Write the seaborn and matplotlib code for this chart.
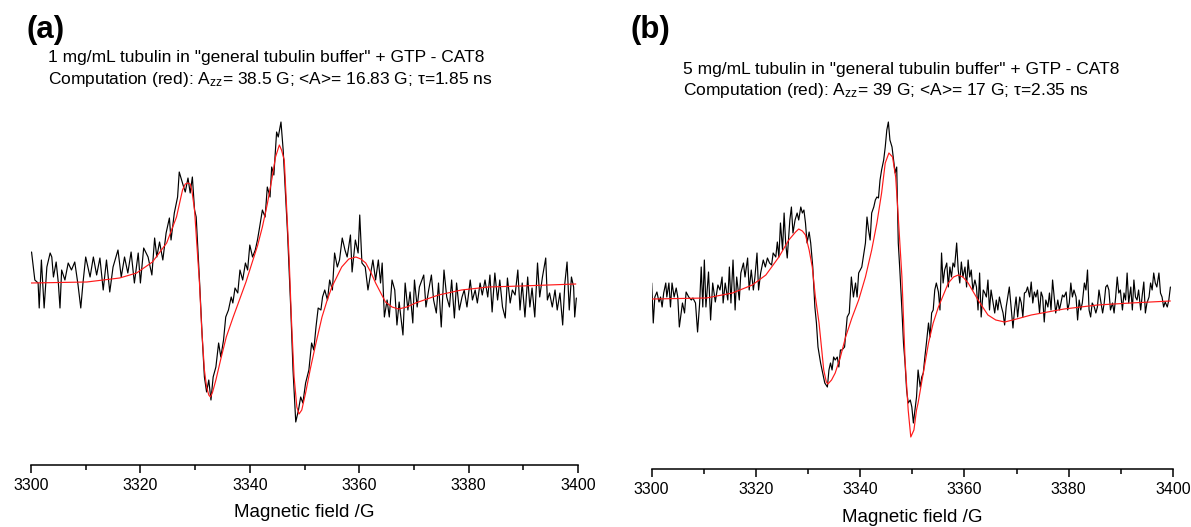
import numpy as np
import pandas as pd
import matplotlib.pyplot as plt
import seaborn as sns
from matplotlib.ticker import MultipleLocator

# EPR spectra of CAT8 in tubulin buffer, experiment (black) vs computation (red)
# signal in arbitrary units, field in Gauss

# ---- panel (a): 1 mg/mL ----
exp_a_field = [
    3300.1, 3300.7, 3301.3, 3301.5, 3301.9, 3302.4, 3302.9, 3303.5, 3303.8, 3304.1,
    3304.6, 3305.0, 3305.3, 3305.6, 3306.2, 3306.8, 3307.4, 3308.0, 3308.6, 3309.1,
    3309.5, 3310.0, 3310.8, 3311.4, 3312.0, 3312.6, 3313.2, 3313.8, 3314.4, 3315.0,
    3315.9, 3316.5, 3317.1, 3317.7, 3318.3, 3318.9, 3319.6, 3320.0, 3320.6, 3321.4,
    3322.1, 3322.6, 3323.0, 3323.5, 3324.1, 3324.7, 3325.3, 3325.6, 3326.2, 3326.8,
    3327.1, 3327.8, 3328.2, 3328.7, 3329.1, 3329.5, 3329.9, 3330.2, 3330.8, 3331.3,
    3331.7, 3332.1, 3332.5, 3332.9, 3333.3, 3333.8, 3334.3, 3334.7, 3335.2, 3335.6,
    3336.1, 3336.6, 3336.9, 3337.3, 3337.8, 3338.2, 3338.7, 3339.2, 3339.6, 3340.0,
    3340.5, 3341.0, 3341.4, 3341.8, 3342.3, 3342.8, 3343.2, 3343.7, 3344.0, 3344.4,
    3344.9, 3345.2, 3345.7, 3346.1, 3346.5, 3346.9, 3347.5, 3347.9, 3348.4, 3348.9,
    3349.3, 3349.7, 3350.2, 3350.8, 3351.3, 3351.7, 3352.1, 3352.5,
    3353.0, 3353.3, 3353.7, 3354.2, 3354.6, 3355.1, 3355.5, 3356.0, 3356.4, 3356.9,
    3357.4, 3357.8, 3358.4, 3358.7, 3359.3, 3359.8, 3360.1, 3360.5, 3361.1, 3361.6,
    3362.1, 3362.5, 3363.0, 3363.5, 3363.9, 3364.2, 3364.6, 3365.1, 3365.5, 3366.0,
    3366.5, 3366.9, 3367.3, 3368.0, 3368.4, 3368.9, 3369.3, 3369.8, 3370.1, 3370.6,
    3371.0, 3371.8, 3372.2, 3372.7, 3373.2, 3373.6, 3374.1, 3374.5, 3375.0, 3375.5,
    3376.0, 3376.5, 3376.9, 3377.4, 3377.8, 3378.3, 3378.8, 3379.2, 3379.7, 3380.3,
    3380.7, 3381.2, 3381.6, 3382.1, 3382.5, 3383.0, 3383.5, 3383.9, 3384.3, 3384.8,
    3385.3, 3385.7, 3386.2, 3386.7, 3387.1, 3387.6, 3388.0, 3388.5, 3389.0, 3389.4,
    3389.8, 3390.3, 3390.8, 3391.2, 3391.6, 3392.1, 3392.6, 3393.0, 3393.5, 3394.1,
    3394.4, 3394.8, 3395.3, 3395.8, 3396.2, 3396.7, 3397.2, 3397.6, 3398.0, 3398.4,
    3398.8, 3399.2, 3399.4, 3399.7,
]
exp_a = [
    31, 3, 0, -25, 23, -25, 16, 30, 26, 6,
    21, 0, -25, 13, 3, 20, 13, 21, -2, -25,
    0, 26, 6, 26, 8, 25, -7, 23, -9, 16,
    33, 6, 26, 10, 31, 0, 30, 0, 35, 26,
    8, 45, 26, 41, 23, 50, 65, 43, 70, 86,
    111, 98, 91, 105, 90, 106, 73, 66, 3, -54,
    -94, -109, -97, -117, -94, -84, -60, -74, -57, -34,
    -27, -14, -20, -5, -10, 13, 3, 20, 13, 38,
    26, 33, 43, 56, 73, 66, 96, 86, 116, 108,
    151, 146, 161, 133, 91, 50, -27, -87, -139, -127,
    -114, -120, -100, -87, -60, -67, -44, -25,
    -27, -14, -7, -17, 3, -7, 30, 16, 23, 45,
    33, 26, 48, 11, 43, 30, 68, 20, 16, -7,
    10, 23, 3, 23, 0, 20, -34, -17, -34, 3,
    -7, -42, -19, -52, 0, -27, -9, -40, 3, -24,
    -4, 8, -24, -7, 8, -17, -30, 0, -44, 13,
    -14, -24, 3, -35, 0, -27, -14, -7, -24, 3,
    -17, -7, -20, 0, -12, 3, -14, 8, -29, 10,
    -17, 3, -24, -35, 5, -20, -7, -12, 13, -27,
    0, -34, 6, -24, -5, -34, 20, -14, 6, 25,
    -17, -10, -24, -7, -27, -10, -42, 0, 21, -27,
    6, -4, -34, -15,
]
fit_a_field = [
    3300.0, 3310.2, 3316.2, 3319.3, 3322.2, 3324.8, 3326.6, 3327.7, 3328.2, 3328.7,
    3329.1, 3329.4, 3329.9, 3330.3, 3330.8, 3331.2, 3331.7, 3332.1, 3332.5, 3332.8,
    3333.2, 3333.8, 3334.7, 3335.7, 3336.9, 3338.1, 3339.3, 3340.4, 3341.4, 3342.3,
    3343.2, 3344.1, 3344.7, 3345.4, 3345.8, 3346.3, 3346.6, 3347.2, 3347.6, 3348.1,
    3348.6, 3349.0, 3349.5, 3350.2, 3351.1, 3352.1, 3353.2, 3354.1, 3355.0, 3356.8,
    3358.1, 3359.4, 3360.3, 3361.2, 3362.1, 3363.0, 3364.8, 3366.0, 3367.2, 3368.7,
    3370.3, 3374.5, 3378.7, 3383.6, 3389.6, 3399.6,
]
fit_a = [
    0, 1, 5, 10, 21, 40, 66, 93, 99, 100,
    99, 93, 73, 40, 0, -45, -87, -104, -112, -114,
    -109, -97, -76, -54, -35, -17, 1, 20, 37, 56,
    79, 106, 126, 138, 133, 123, 90, 23, -35, -94,
    -124, -131, -127, -110, -85, -60, -34, -18, -4, 16,
    24, 26, 24, 20, 11, 0, -19, -24, -26, -24,
    -20, -12, -7, -4, -3, -1,
]

# ---- panel (b): 5 mg/mL ----
exp_b_field = [
    3300.0, 3300.3, 3300.6, 3301.0, 3301.4, 3301.7, 3302.0, 3302.3, 3302.7, 3302.9,
    3303.3, 3303.6, 3303.9, 3304.3, 3304.7, 3305.0, 3305.3, 3305.9, 3306.3, 3306.6,
    3307.1, 3307.6, 3307.9, 3308.4, 3308.8, 3309.2, 3309.5, 3309.8, 3310.1, 3310.4,
    3310.9, 3311.3, 3311.7, 3312.2, 3312.7, 3313.1, 3313.5, 3313.7, 3314.1, 3314.6,
    3314.9, 3315.2, 3315.6, 3316.0, 3316.3, 3316.8, 3317.1, 3317.6, 3317.9, 3318.4,
    3318.7, 3319.1, 3319.5, 3319.8, 3320.2, 3320.5, 3320.9, 3321.4, 3321.8, 3322.2,
    3322.6, 3323.0, 3323.3, 3323.8, 3324.1, 3324.4, 3324.7, 3325.1, 3325.4, 3325.7,
    3326.0, 3326.5, 3326.8, 3327.1, 3327.5, 3327.9, 3328.2, 3328.6, 3328.9, 3329.2,
    3329.5, 3329.8, 3330.2, 3330.5, 3330.9, 3331.3, 3331.6, 3331.9, 3332.4, 3332.8,
    3333.2, 3333.7, 3334.0, 3334.3, 3334.6, 3334.9, 3335.2, 3335.6, 3335.9, 3336.2,
    3336.5, 3337.0, 3337.5, 3337.9, 3338.3, 3338.7, 3339.1, 3339.4, 3339.7, 3340.0,
    3340.3, 3340.6, 3341.0, 3341.3, 3341.6, 3341.9, 3342.2, 3342.6, 3342.9, 3343.2,
    3343.5, 3343.8, 3344.1, 3344.5, 3344.8, 3345.1, 3345.4, 3345.7, 3346.1, 3346.4,
    3346.7, 3347.0, 3347.3, 3347.6, 3348.0, 3348.3, 3348.6, 3348.9, 3349.2, 3349.6,
    3349.9, 3350.2, 3350.5,
    3350.8, 3351.1, 3351.5, 3351.8, 3352.1, 3352.4, 3352.7, 3353.1, 3353.4, 3353.7,
    3354.0, 3354.3, 3354.6, 3355.0, 3355.3, 3355.6, 3355.9, 3356.2, 3356.6, 3356.9,
    3357.2, 3357.5, 3357.8, 3358.1, 3358.5, 3358.8, 3359.1, 3359.4, 3359.7, 3360.1,
    3360.4, 3360.7, 3361.0, 3361.3, 3361.6, 3362.0, 3362.3, 3362.6, 3362.9, 3363.2,
    3363.6, 3363.9, 3364.2, 3364.5, 3364.8, 3365.1, 3365.5, 3365.8, 3366.1, 3366.4,
    3366.7, 3367.1, 3367.4, 3367.7, 3368.0, 3368.3, 3368.6, 3369.0, 3369.3, 3369.6,
    3369.9, 3370.2, 3370.6, 3370.9, 3371.2, 3371.5, 3371.8, 3372.1, 3372.5, 3372.8,
    3373.1, 3373.4, 3373.7, 3374.0, 3374.4, 3374.7, 3375.0, 3375.3, 3375.6, 3376.0,
    3376.3, 3376.6, 3376.9, 3377.2, 3377.5, 3377.9, 3378.2, 3378.5, 3378.8, 3379.1,
    3379.5, 3379.8, 3380.1, 3380.4, 3380.7, 3381.0, 3381.4, 3381.7, 3382.0, 3382.3,
    3382.6, 3383.0, 3383.3, 3383.6, 3383.9, 3384.2, 3384.5, 3384.9, 3385.2, 3385.5,
    3385.8, 3386.1, 3386.5, 3386.8, 3387.1, 3387.4, 3387.7, 3388.0, 3388.4, 3388.7,
    3389.0, 3389.3, 3389.6, 3389.9, 3390.3, 3390.6, 3390.9, 3391.2, 3391.5, 3391.9,
    3392.2, 3392.5, 3392.8, 3393.1, 3393.4, 3393.8, 3394.1, 3394.4, 3394.7, 3395.0,
    3395.4, 3395.7, 3396.0, 3396.3, 3396.6, 3396.9, 3397.3, 3397.6, 3397.9, 3398.2,
    3398.5, 3398.9, 3399.2, 3399.5,
]
exp_b = [
    16, -24, 2, 7, -3, 2, -8, 6, 16, 2,
    16, -8, 16, 2, 11, 2, -28, -4, -14, 7,
    2, -1, 1, -4, -33, -4, 32, -8, 39, -8,
    27, -21, 16, -3, 14, 9, 22, -4, 16, -1,
    32, -4, 39, -11, 22, -1, 26, 36, 22, 41,
    9, 29, 9, 22, 46, 9, 26, 39, 32, 41,
    36, 34, 46, 42, 57, 42, 76, 49, 86, 56,
    41, 79, 92, 66, 79, 86, 79, 92, 86, 89,
    76, 56, 67, 56, 32, -8, -24, -48, -64, -74,
    -84, -88, -71, -64, -71, -58, -61, -58, -68, -51,
    -51, -48, -18, -14, 22, 2, 16, 2, 26, 29,
    32, 42, 56, 82, 69, 59, 86, 92, 99, 102,
    101, 119, 129, 139, 152, 169, 177, 159, 152, 139,
    126, 132, 56, 29, -11, -44, -64, -91, -104, -101,
    -108, -124, -111,
    -98, -71, -88, -78, -74, -58, -44, -24, -38, -14,
    -11, 9, 16, 7, -11, 46, 16, 29, 36, 12,
    32, 22, 36, 32, 56, 29, 16, 37, 22, 32,
    12, 39, 22, 29, 9, 19, 12, -11, 26, -18,
    9, 6, 2, 19, -11, 9, -4, -14, -1, -11,
    2, -8, -14, -26, -8, 2, 12, -11, -29, -11,
    2, -18, 2, -4, -18, 6, 7, 12, 2, 17,
    -4, 7, 2, 9, -14, 7, 2, -23, -1, -8,
    6, -11, 19, 2, -14, -1, -11, -4, 4, 2,
    7, -11, -4, 16, 2, 9, 2, -21, -1, -11,
    -4, 16, 9, 29, -11, -18, -4, -8, -14, -8,
    9, -1, -14, -4, 12, 14, 9, -11, -4, -14,
    2, 22, 6, 9, -11, 6, -1, 26, -4, 12,
    -11, 19, 2, -1, 9, -11, 4, 17, -14, -4,
    2, 16, 9, 26, 16, 12, 26, 6, 2, -8,
    -3, -8, -1, 12,
]
fit_b_field = [
    3300.0, 3310.5, 3315.5, 3319.3, 3321.9, 3324.4, 3326.3, 3327.6, 3328.2, 3328.9,
    3329.5, 3330.2, 3330.8, 3331.4, 3332.1, 3332.6, 3333.0, 3333.5, 3333.8, 3334.5,
    3335.2, 3336.2, 3337.2, 3338.4, 3339.7, 3341.0, 3342.2, 3343.2, 3344.1, 3344.8,
    3345.5, 3346.2, 3346.8, 3347.3, 3348.0, 3348.6, 3349.2, 3349.7, 3350.3, 3350.8,
    3351.1, 3352.1, 3353.1, 3354.0, 3355.0, 3356.9, 3357.9, 3358.8, 3359.7, 3360.7,
    3362.6, 3364.5, 3366.0, 3367.7, 3370.0, 3372.8, 3379.1, 3385.5, 3391.9, 3399.5,
]
fit_b = [
    0, 1, 6, 14, 24, 42, 59, 67, 70, 68,
    64, 49, 32, 2, -24, -50, -71, -83, -85, -81,
    -74, -58, -38, -19, -1, 22, 49, 76, 106, 136,
    146, 142, 122, 82, 22, -61, -111, -138, -131, -111,
    -104, -74, -44, -24, -8, 16, 22, 24, 22, 16,
    -1, -16, -21, -23, -20, -16, -10, -6, -4, -2,
]

labels = ['(a)', '(b)']
line1 = ['1 mg/mL tubulin in "general tubulin buffer" + GTP - CAT8',
         '5 mg/mL tubulin in "general tubulin buffer" + GTP - CAT8']
line2 = ['Computation (red): A$_{zz}$= 38.5 G; <A>= 16.83 G; \u03c4=1.85 ns',
         'Computation (red): A$_{zz}$= 39 G; <A>= 17 G; \u03c4=2.35 ns']

sns.set_theme(style='white')
plt.rcParams['font.family'] = ['Liberation Sans', 'DejaVu Sans']
plt.rcParams['mathtext.default'] = 'regular'
plt.rcParams['text.color'] = 'black'
plt.rcParams['xtick.color'] = 'black'
plt.rcParams['xtick.labelcolor'] = 'black'

W, H = 1191, 527
fig = plt.figure(figsize=(W / 100, H / 100), dpi=100)

# axes rectangles (pixels): x0, x1, axis line y, top y
boxes = [(31, 578, 465, 100), (651.7, 1173, 469, 100)]
ylims = [(-182, 183), (-170, 199)]
xlab_off = [52, 53]
data = [(exp_a_field, exp_a, fit_a_field, fit_a),
        (exp_b_field, exp_b, fit_b_field, fit_b)]

for i in range(2):
    x0, x1, yb, yt = boxes[i]
    ax = fig.add_axes([x0 / W, 1 - yb / H, (x1 - x0) / W, (yb - yt) / H])
    ef, ev, ff, fv = data[i]
    exp_df = pd.DataFrame({'field': ef, 'signal': ev})
    fit_df = pd.DataFrame({'field': ff, 'signal': fv})
    sns.lineplot(data=exp_df, x='field', y='signal', ax=ax, color='black',
                 lw=0.85, sort=False, estimator=None)
    sns.lineplot(data=fit_df, x='field', y='signal', ax=ax, color='#ff1a1a',
                 lw=0.85, sort=False, estimator=None)
    ax.set_xlim(3300, 3400)
    ax.set_ylim(*ylims[i])
    sns.despine(ax=ax, left=True)
    ax.spines['bottom'].set_color('black')
    ax.spines['bottom'].set_linewidth(1.1)
    ax.set_yticks([])
    ax.set_xlabel('')
    ax.set_ylabel('')
    ax.xaxis.set_major_locator(MultipleLocator(20))
    ax.xaxis.set_minor_locator(MultipleLocator(10))
    ax.tick_params(axis='x', which='major', direction='out', length=6, width=1.1,
                   color='black', labelcolor='black', pad=3.5, labelsize=11.5,
                   bottom=True)
    ax.tick_params(axis='x', which='minor', direction='out', length=3.5, width=1.1,
                   color='black', bottom=True)
    ax.patch.set_alpha(0)

    # xlabel
    fig.text((x0 + x1) / 2 / W, 1 - (yb + xlab_off[i]) / H, 'Magnetic field /G',
             ha='center', va='baseline', fontsize=13.5)

# panel labels and headers
fig.text(26 / W, 1 - 38 / H, labels[0], fontsize=22.5, fontweight='bold', va='baseline')
fig.text(631 / W, 1 - 38 / H, labels[1], fontsize=22.5, fontweight='bold', va='baseline')
fig.text(48 / W, 1 - 62 / H, line1[0], fontsize=12.5, va='baseline')
fig.text(48 / W, 1 - 84 / H, line2[0], fontsize=12.5, va='baseline')
fig.text(683 / W, 1 - 74 / H, line1[1], fontsize=12.5, va='baseline')
fig.text(683 / W, 1 - 95 / H, line2[1], fontsize=12.5, va='baseline')

fig.savefig('out.png', dpi=100, facecolor='white')
